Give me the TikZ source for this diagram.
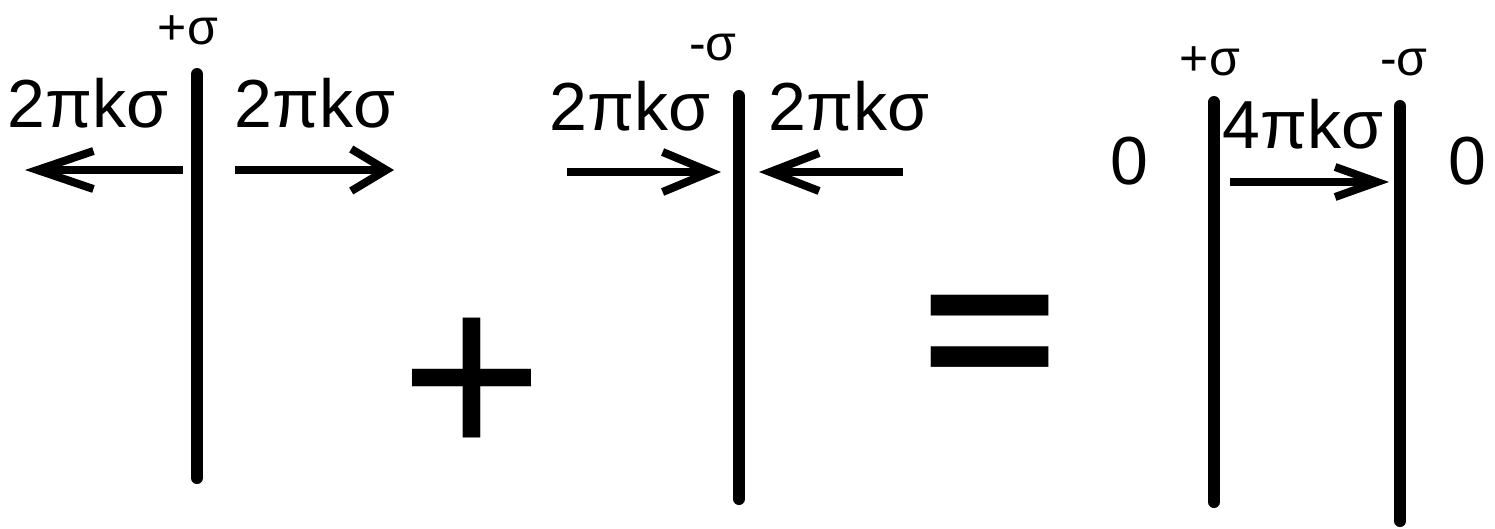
\documentclass[tikz,border=0pt]{standalone}
\usepackage{fontspec}
\setmainfont{Liberation Sans}
\usetikzlibrary{arrows.meta}
\tikzset{
  plate/.style={line width=12pt, line cap=round},
  field/.style={line width=8pt},
  big/.style={inner sep=0pt, anchor=base, font=\fontsize{68}{68}\selectfont},
  small/.style={inner sep=0pt, anchor=base, font=\fontsize{50}{50}\selectfont},
  sign/.style={inner sep=0pt, anchor=center},
}
\begin{document}
\begin{tikzpicture}[x=1pt,y=-1pt]
\useasboundingbox (0,0) rectangle (1495,528);
% plates
\coordinate (p1t) at (197,74);  \coordinate (p1b) at (197,478);
\coordinate (p2t) at (739,96);  \coordinate (p2b) at (739,499);
\coordinate (p3t) at (1214,102); \coordinate (p3b) at (1214,502);
\coordinate (p4t) at (1400,106); \coordinate (p4b) at (1400,521);
\draw[plate] (p1t) -- (p1b);
\draw[plate] (p2t) -- (p2b);
\draw[plate] (p3t) -- (p3b);
\draw[plate] (p4t) -- (p4b);
% arrow end points
\coordinate (a1s) at (183,170); \coordinate (a1e) at (25,170);
\coordinate (a2s) at (235,170); \coordinate (a2e) at (394,170);
\coordinate (a3s) at (567,172); \coordinate (a3e) at (721,172);
\coordinate (a4s) at (903,172); \coordinate (a4e) at (759,172);
\coordinate (a5s) at (1230,182); \coordinate (a5e) at (1389,182);
\draw[field, -{Straight Barb[length=56pt,width=38pt]}] (a1s) -- (a1e);
\draw[field, -{Straight Barb[length=35pt,width=42pt]}] (a2s) -- (a2e);
\draw[field, -{Straight Barb[length=48pt,width=40pt]}] (a3s) -- (a3e);
\draw[field, -{Straight Barb[length=49pt,width=38pt]}] (a4s) -- (a4e);
\draw[field, -{Straight Barb[length=42pt,width=30pt]}] (a5s) -- (a5e);
% labels
\node[small] (s1) at (188,44) {+σ};
\node[big] (f1l) at (88,127) {2πkσ};
\node[big] (f1r) at (315,127) {2πkσ};
\node[small] (s2) at (713,60) {-σ};
\node[big] (f2l) at (630,130) {2πkσ};
\node[big] (f2r) at (849,130) {2πkσ};
\node[small] (s3) at (1210,75) {+σ};
\node[small] (s4) at (1404,75) {-σ};
\node[big] (z1) at (1129,184) {0};
\node[big] (z2) at (1467,184) {0};
\node[big] (f3) at (1303,148) {4πkσ};
% operators
\node[sign, font=\fontsize{245}{245}\selectfont] (plus) at (472,389) {+};
\node[sign, font=\fontsize{230}{230}\selectfont\bfseries] (eq) at (990,345) {\scalebox{1.02}[0.83]{=}};
\end{tikzpicture}
\end{document}
